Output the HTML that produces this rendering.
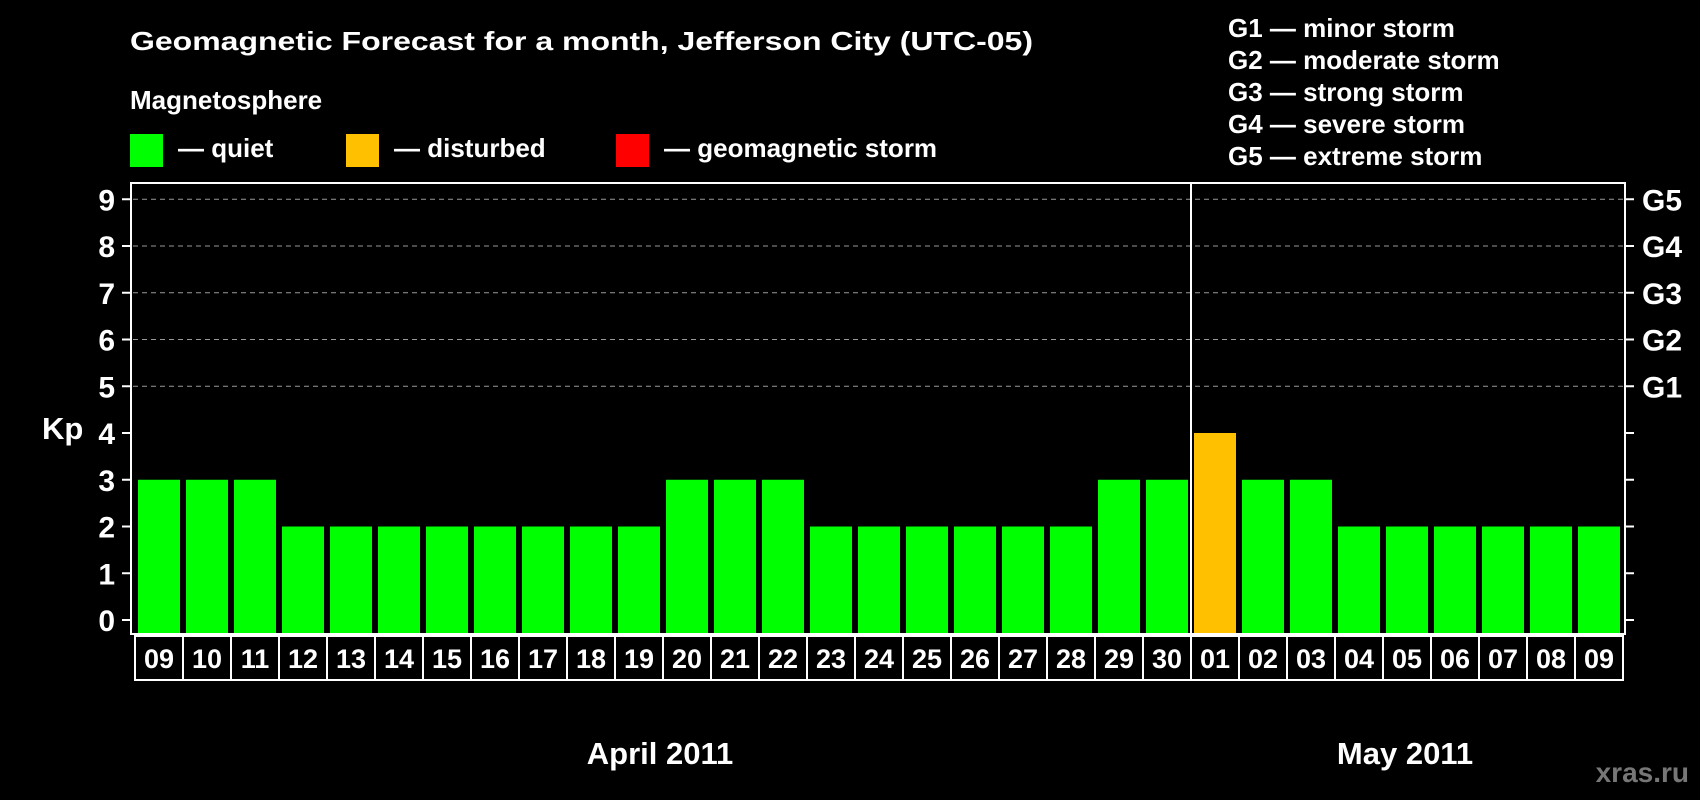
<!DOCTYPE html>
<html><head><meta charset="utf-8"><style>
body{margin:0;background:#000;}
svg{display:block;font-family:"Liberation Sans",Arial,sans-serif;font-weight:bold;}
</style></head><body>
<svg id="chart" width="1700" height="800" viewBox="0 0 1700 800">
<rect width="1700" height="800" fill="#000"/>
<text x="130" y="50" fill="#fff" font-size="26" textLength="903" lengthAdjust="spacingAndGlyphs">Geomagnetic Forecast for a month, Jefferson City (UTC-05)</text>
<text x="130" y="109" fill="#fff" font-size="26">Magnetosphere</text>
<rect x="130" y="134" width="33" height="33" fill="#00ff00"/>
<text x="178" y="157" fill="#fff" font-size="26">— quiet</text>
<rect x="346" y="134" width="33" height="33" fill="#ffc000"/>
<text x="394" y="157" fill="#fff" font-size="26">— disturbed</text>
<rect x="616" y="134" width="33" height="33" fill="#ff0000"/>
<text x="664" y="157" fill="#fff" font-size="26">— geomagnetic storm</text>
<g fill="#fff" font-size="26">
<text x="1228" y="37">G1 — minor storm</text>
<text x="1228" y="69">G2 — moderate storm</text>
<text x="1228" y="101">G3 — strong storm</text>
<text x="1228" y="133">G4 — severe storm</text>
<text x="1228" y="165">G5 — extreme storm</text>
</g>
<text x="42" y="439" fill="#fff" font-size="31">Kp</text>
<g id="grid"></g>
<g id="bars"></g>
<rect x="131" y="183" width="1494" height="451" fill="none" stroke="#fff" stroke-width="2"/>
<line x1="1191" y1="183" x2="1191" y2="634" stroke="#fff" stroke-width="2"/>
<g id="axes"></g>
<text x="660" y="764" fill="#fff" font-size="31" text-anchor="middle">April 2011</text>
<text x="1405" y="764" fill="#fff" font-size="31" text-anchor="middle">May 2011</text>
<text x="1689" y="782" fill="#777" font-size="28" text-anchor="end">xras.ru</text>
</svg>
<script>
const days=["09","10","11","12","13","14","15","16","17","18","19","20","21","22","23","24","25","26","27","28","29","30","01","02","03","04","05","06","07","08","09"];
const kp=[3,3,3,2,2,2,2,2,2,2,2,3,3,3,2,2,2,2,2,2,3,3,4,3,3,2,2,2,2,2,2];
const yTicks=[0,1,2,3,4,5,6,7,8,9];
const gLabels=["G1","G2","G3","G4","G5"];
const NS="http://www.w3.org/2000/svg";
const x0=135,slot=48,y0=620,unit=46.75;
const y=v=>y0-v*unit;
const xs=i=>x0+i*slot;
function mk(t,a,p){const e=document.createElementNS(NS,t);for(const k in a)e.setAttribute(k,a[k]);p.appendChild(e);return e;}
const grid=document.getElementById('grid'),bars=document.getElementById('bars'),axes=document.getElementById('axes');
yTicks.forEach(v=>{
 if(v>=5){const l=mk('line',{x1:133,x2:1623,y1:y(v),y2:y(v),stroke:'#999','stroke-dasharray':'5,4','stroke-width':1},grid);
 
 }
 const t1=mk('line',{x1:122,x2:131,y1:y(v),y2:y(v),stroke:'#fff','stroke-width':2},axes);
 
 
 const t2=mk('line',{x1:1625,x2:1634,y1:y(v),y2:y(v),stroke:'#fff','stroke-width':2},axes);
 
 
 const tx=mk('text',{x:115,y:y(v)+11,fill:'#fff','font-size':30,'text-anchor':'end'},axes);tx.textContent=v;
 
 
});
gLabels.forEach((g,i)=>{const t=mk('text',{x:1642,y:y(5+i)+11,fill:'#fff','font-size':30},axes);t.textContent=g;
 
 });
kp.forEach((v,i)=>{
 const r=mk('rect',{x:xs(i)+3,y:y(v),width:42,height:634-y(v),fill:v>=5?'#ff0000':(v>=4?'#ffc000':'#00ff00')},bars);
 
 
 const b=mk('rect',{x:xs(i),y:636,width:slot,height:44,fill:'none',stroke:'#fff','stroke-width':2},axes);
 
 
 const t=mk('text',{x:xs(i)+slot/2,y:668,fill:'#fff','font-size':27,'text-anchor':'middle'},axes);t.textContent=days[i];
 
 
});
</script>
</body></html>
